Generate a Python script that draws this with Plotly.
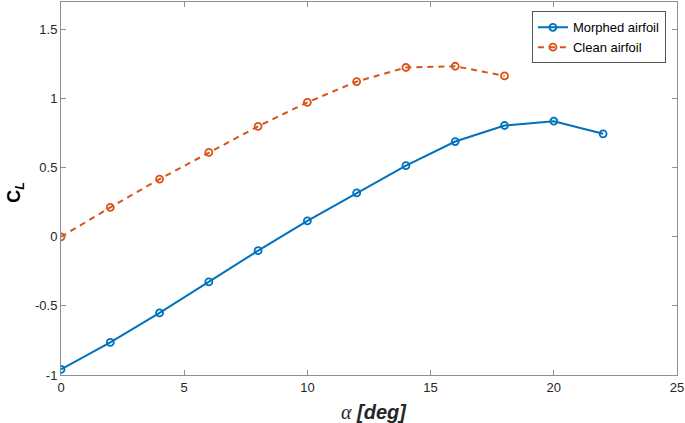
import plotly.graph_objects as go

alpha_morphed = [0, 2, 4, 6, 8, 10, 12, 14, 16, 18, 20, 22]
cl_morphed = [-0.96, -0.764, -0.551, -0.326, -0.10, 0.116, 0.318, 0.516, 0.69, 0.806, 0.837, 0.746]

alpha_clean = [0, 2, 4, 6, 8, 10, 12, 14, 16, 18]
cl_clean = [0.0, 0.213, 0.418, 0.612, 0.80, 0.974, 1.124, 1.226, 1.235, 1.165]

x_ticks = [0, 5, 10, 15, 20, 25]
y_ticks = [-1, -0.5, 0, 0.5, 1, 1.5]
y_tick_labels = ["-1", "-0.5", "0", "0.5", "1", "1.5"]

BLUE = "#0072BD"
ORANGE = "#D95319"
AXIS = "#8f8f8f"
FONT = "Liberation Sans, Arial, sans-serif"

fig = go.Figure()
fig.add_trace(go.Scatter(
    x=alpha_morphed, y=cl_morphed, mode="lines+markers", name="Morphed airfoil",
    line=dict(color=BLUE, width=2),
    marker=dict(symbol="circle-open", size=7, color=BLUE, line=dict(width=1.8, color=BLUE)),
))
fig.add_trace(go.Scatter(
    x=alpha_clean, y=cl_clean, mode="lines+markers", name="Clean airfoil",
    line=dict(color=ORANGE, width=2, dash="6px,5px"),
    marker=dict(symbol="circle-open", size=7, color=ORANGE, line=dict(width=1.8, color=ORANGE)),
))

axis_common = dict(
    showline=True, linecolor=AXIS, linewidth=1, mirror="ticks",
    ticks="inside", ticklen=5, tickcolor=AXIS, tickwidth=1,
    showgrid=False, zeroline=False, automargin=False,
    tickfont=dict(family=FONT, size=13, color="#262626"),
)

fig.update_layout(
    width=685, height=423,
    margin=dict(l=61, r=8, t=2, b=48),
    paper_bgcolor="white", plot_bgcolor="white",
    font=dict(family=FONT, color="#262626"),
    showlegend=True,
    legend=dict(
        x=0.982, xanchor="right", y=0.975, yanchor="top",
        bordercolor="#555555", borderwidth=1, bgcolor="white",
        font=dict(family=FONT, size=13, color="#000000"),
        tracegroupgap=0, itemwidth=30,
    ),
    xaxis=dict(range=[0, 25], tickvals=x_ticks, **axis_common),
    yaxis=dict(range=[-1, 1.7], tickvals=y_ticks, ticktext=y_tick_labels, **axis_common),
    annotations=[
        dict(
            text="<span style='font-family:Liberation Serif, Times New Roman, serif'><i>α</i></span><b><i> [deg]</i></b>",
            xref="paper", yref="paper", x=0.508, y=-0.099, xanchor="center", yanchor="middle",
            showarrow=False, font=dict(family=FONT, size=20, color="#262626"),
        ),
        dict(
            text="<b>C<sub><i>L</i></sub></b>",
            xref="paper", yref="paper", x=-0.074, y=0.49, xanchor="center", yanchor="middle",
            textangle=-90, showarrow=False, font=dict(family=FONT, size=18, color="#000000"),
        ),
    ],
)

fig.write_html(
    "out.html",
    config={"displayModeBar": False},
    post_script="document.body.style.margin='0';document.body.style.padding='0';",
)
